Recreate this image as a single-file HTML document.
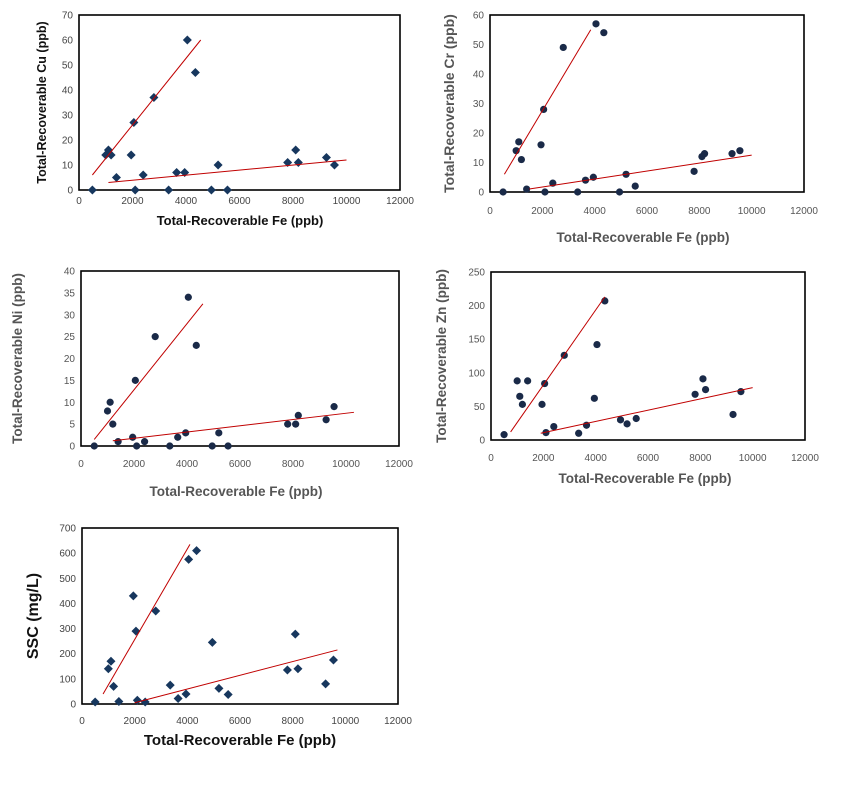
<!DOCTYPE html>
<html><head><meta charset="utf-8"><style>
body{margin:0;background:#fff;width:848px;height:786px;overflow:hidden;font-family:"Liberation Sans",sans-serif}
svg{position:absolute;left:0;top:0}
</style></head><body>
<svg id="s" width="848" height="786"></svg>
<script>
const feValues=[500,1000,1100,1200,1400,1950,2050,2100,2400,2800,3350,3650,3950,4050,4350,4950,5200,5550,7800,8100,8200,9250,9550];
const cuValues=[0,14,16,14,5,14,27,0,6,37,0,7,7,60,47,0,10,0,11,16,11,13,10];
const crValues=[0,14,17,11,1,16,28,0,3,49,0,4,5,57,54,0,6,2,7,12,13,13,14];
const niValues=[0,8,10,5,1,2,15,0,1,25,0,2,3,34,23,0,3,0,5,5,7,6,9];
const znValues=[8,88,65,53,88,53,84,11,20,126,10,22,62,142,207,30,24,32,68,91,75,38,72];
const sscValues=[8,140,170,70,10,430,290,15,8,370,75,22,40,575,610,245,62,38,135,278,140,80,175];
const xTicks=[0,2000,4000,6000,8000,10000,12000];
const cuTicks=[0,10,20,30,40,50,60,70];
const crTicks=[0,10,20,30,40,50,60];
const niTicks=[0,5,10,15,20,25,30,35,40];
const znTicks=[0,50,100,150,200,250];
const sscTicks=[0,100,200,300,400,500,600,700];
const cuLines=[[500,6,4550,60],[1100,3,10000,12]];
const crLines=[[550,6,3850,55],[1500,1,10000,12.5]];
const niLines=[[500,1.5,4600,32.5],[1200,1.2,10300,7.7]];
const znLines=[[750,12,4350,213],[1900,10,10000,78]];
const sscLines=[[800,40,4100,635],[2000,5,9700,215]];

const NS="http://www.w3.org/2000/svg";
const svg=document.getElementById('s');
function mk(tag,attrs,parent,text){const e=document.createElementNS(NS,tag);for(const k in attrs)e.setAttribute(k,attrs[k]);if(text!==undefined)e.textContent=text;(parent||svg).appendChild(e);return e;}

const charts=[
 {id:'cu',vals:cuValues,ticks:cuTicks,lines:cuLines,L:79,R:400,T:15,B:190,marker:'diamond',yt:'Total-Recoverable Cu (ppb)',ytx:46,ytSize:12.5,xty:225,xtSize:13,xtx:240,col:'#111',xly:204,tickCol:'#444'},
 {id:'cr',vals:crValues,ticks:crTicks,lines:crLines,L:490,R:804,T:15,B:192,marker:'circle',yt:'Total-Recoverable Cr (ppb)',ytx:454,ytSize:14,xty:242,xtSize:13.5,xtx:643,col:'#555',xly:214,tickCol:'#555'},
 {id:'ni',vals:niValues,ticks:niTicks,lines:niLines,L:81,R:399,T:271,B:446,marker:'circle',yt:'Total-Recoverable Ni (ppb)',ytx:22,ytSize:13.5,xty:496,xtSize:13.5,xtx:236,col:'#555',xly:467,tickCol:'#555'},
 {id:'zn',vals:znValues,ticks:znTicks,lines:znLines,L:491,R:805,T:272,B:440,marker:'circle',yt:'Total-Recoverable Zn (ppb)',ytx:446,ytSize:13.5,xty:483,xtSize:13.5,xtx:645,col:'#555',xly:461,tickCol:'#555'},
 {id:'ssc',vals:sscValues,ticks:sscTicks,lines:sscLines,L:82,R:398,T:528,B:704,marker:'diamond',yt:'SSC (mg/L)',ytx:38,ytSize:16,xty:745,xtSize:15,xtx:240,col:'#111',xly:724,tickCol:'#444'}
];

charts.forEach(c=>{
 const g=mk('g',{});
 
 
 const ymax=c.ticks[c.ticks.length-1];
 const xs=v=>c.L+(v/12000)*(c.R-c.L);
 const ys=v=>c.B-(v/ymax)*(c.B-c.T);
 const box=mk('rect',{x:c.L,y:c.T,width:c.R-c.L,height:c.B-c.T,fill:'#fff',stroke:'#000','stroke-width':1.6},g);
 
 
 c.ticks.forEach(t=>{
  const tx=mk('text',{x:c.L-6,y:ys(t)+3.5,'text-anchor':'end','font-size':10,fill:c.tickCol},g,String(t));
  
  
 });
 xTicks.forEach(t=>{
  const tx=mk('text',{x:xs(t),y:c.xly,'text-anchor':'middle','font-size':10,fill:c.tickCol},g,String(t));
  
  
 });
 const xt=mk('text',{x:c.xtx,y:c.xty,'text-anchor':'middle','font-size':c.xtSize,'font-weight':'bold',fill:c.col},g,'Total-Recoverable Fe (ppb)');
 
 
 const cy=(c.T+c.B)/2;
 const yt=mk('text',{x:c.ytx,y:cy,'text-anchor':'middle','font-size':c.ytSize,'font-weight':'bold',fill:c.col,transform:`rotate(-90 ${c.ytx} ${cy})`},g,c.yt);
 
 
 c.vals.forEach((v,i)=>{
  const px=xs(feValues[i]),py=ys(v);
  let m;
  if(c.marker==='diamond'){
   m=mk('polygon',{points:`${px},${py-4.5} ${px+4.5},${py} ${px},${py+4.5} ${px-4.5},${py}`,fill:'#17375e'},g);
  }else{
   m=mk('circle',{cx:px,cy:py,r:3.6,fill:'#1a2a48'},g);
  }
  
  
 });
 c.lines.forEach((l,k)=>{
  const ln=mk('line',{x1:xs(l[0]),y1:ys(l[1]),x2:xs(l[2]),y2:ys(l[3]),stroke:'#c00000','stroke-width':1},g);
  
  
 });
});
</script>
</body></html>
